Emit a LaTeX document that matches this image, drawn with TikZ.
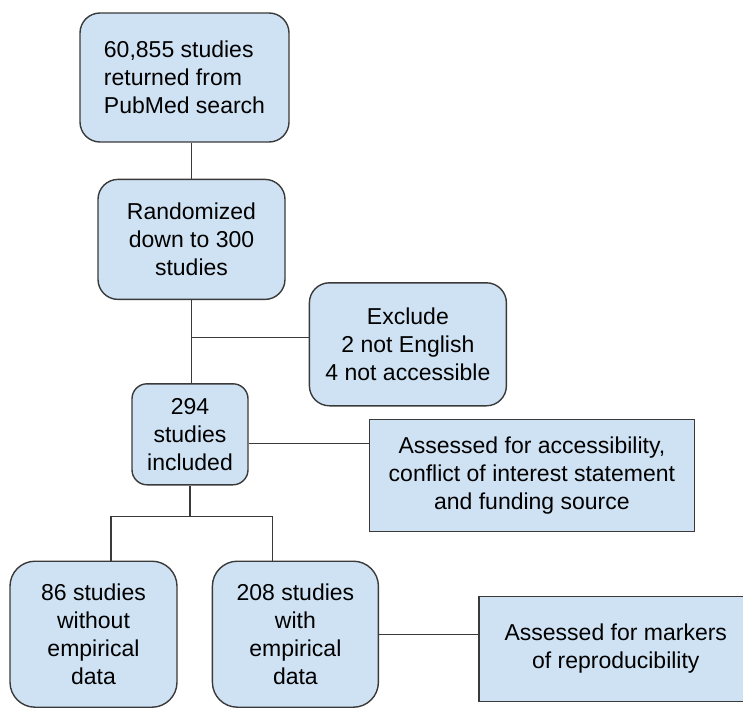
\documentclass[tikz,border=0pt]{standalone}
\usepackage{fontspec}
\setmainfont{Liberation Sans}
\usetikzlibrary{positioning}
\definecolor{boxblue}{HTML}{CFE2F3}
\definecolor{edgegray}{HTML}{3A3A3A}

\begin{document}
\begin{tikzpicture}[
  node distance=36pt and 20pt,
  every node/.style={font=\fontsize{23}{28}\selectfont},
  rbox/.style={draw=edgegray, line width=1.4pt, fill=boxblue, rounded corners=20pt, align=center, inner sep=0pt},
  sbox/.style={draw=edgegray, line width=1.4pt, fill=boxblue, align=center, inner sep=0pt},
  conn/.style={draw=edgegray, line width=1.3pt}
]
\useasboundingbox (0,0) rectangle (743pt,-709pt);
\clip (0,0) rectangle (743pt,-709pt);

\node[rbox, align=left, minimum width=209pt, minimum height=129pt] (search) at (184.5pt,-77.5pt) {60,855 studies\\returned from\\PubMed search};
\node[rbox, below=36pt of search, xshift=7pt, minimum width=187pt, minimum height=120pt] (random) {Randomized\\down to 300\\studies};
\node[rbox, below right=-18pt and 23pt of random, minimum width=197pt, minimum height=123pt] (exclude) {Exclude\\2 not English\\4 not accessible};
\node[rbox, rounded corners=15pt, below=83pt of random, xshift=-1.5pt, minimum width=116pt, minimum height=101pt] (included) {294\\studies\\included};
\node[sbox, below right=-67pt and 120pt of included, minimum width=325pt, minimum height=112pt] (assess) {Assessed for accessibility,\\conflict of interest statement\\and funding source};
\node[rbox, rounded corners=25pt, below=75pt of included, xshift=-96.5pt, minimum width=167pt, minimum height=146pt] (noemp) {86 studies\\without\\empirical\\data};
\node[rbox, rounded corners=25pt, right=34pt of noemp, minimum width=166pt, minimum height=146pt] (withemp) {208 studies\\with\\empirical\\data};
\node[sbox, right=99pt of withemp, yshift=-14.5pt, minimum width=274pt, minimum height=105pt] (markers) {Assessed for markers\\of reproducibility};

% connectors
\draw[conn] (random.north) -- (random.north |- search.south);
\draw[conn] (random.south) -- (random.south |- included.north);
\draw[conn] ([yshift=6.5pt]exclude.west) -- ([yshift=6.5pt]exclude.west -| random.south);
\draw[conn] ([yshift=-9.5pt]included.east) -- ([yshift=-9.5pt]included.east -| assess.west);
\draw[conn] (included.south) -- ++(0,-31pt) coordinate (split);
\draw[conn] ([xshift=17.5pt]noemp.north) |- (split) -| ([xshift=-23pt]withemp.north);
\draw[conn] (withemp.east) -- (withemp.east -| markers.west);
\end{tikzpicture}
\end{document}
